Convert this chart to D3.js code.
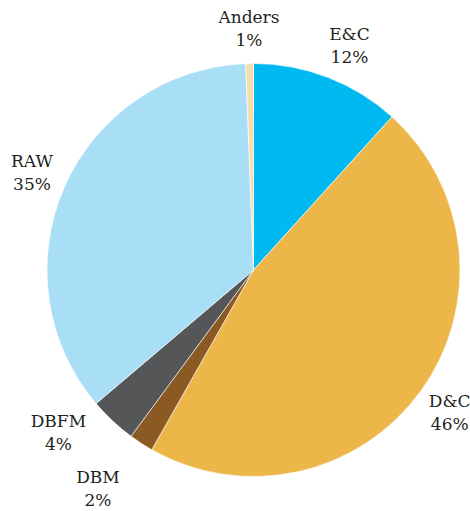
<!DOCTYPE html>
<html>
<head>
<meta charset="utf-8">
<script src="https://cdn.jsdelivr.net/npm/d3@7"></script>
<style>
  html, body { margin: 0; padding: 0; background: #ffffff; }
  svg { display: block; }
  text { font-family: "DejaVu Serif", serif; font-size: 17px; fill: #231f20; }
</style>
</head>
<body>
<svg id="chart" width="470" height="511"></svg>
<script>
// Data
const categories = ["E&C", "D&C", "DBM", "DBFM", "RAW", "Anders"];
const values = [11.7, 46.5, 1.9, 3.7, 35.6, 0.6];
const percentLabels = ["12%", "46%", "2%", "4%", "35%", "1%"];
const colors = ["#00b9f1", "#ecb748", "#8b5a22", "#545658", "#a8def6", "#f6deb1"];

const svg = d3.select("#chart");
const cx = 253.5, cy = 270, radius = 206.5, labelRadius = 242;

const data = categories.map((c, i) => ({ name: c, value: values[i], pct: percentLabels[i], color: colors[i] }));

const pie = d3.pie().value(d => d.value).sort(null);
const arcs = pie(data);

const arc = d3.arc().innerRadius(0).outerRadius(radius);
const labelArc = d3.arc().innerRadius(labelRadius).outerRadius(labelRadius);

const g = svg.append("g").attr("transform", `translate(${cx},${cy})`);

g.selectAll("path")
  .data(arcs)
  .join("path")
  .attr("d", arc)
  .attr("fill", d => d.data.color)
  .attr("stroke", "#ffffff")
  .attr("stroke-width", 0.6)
  .attr("stroke-linejoin", "round");

// label nudges to avoid overlap / match placement
const nudge = { "E&C": [9, 1], "DBM": [-24, 15], "DBFM": [-30, -15] };

const labels = g.selectAll("g.label")
  .data(arcs)
  .join("g")
  .attr("class", "label")
  .attr("transform", d => {
    const [x, y] = labelArc.centroid(d);
    const n = nudge[d.data.name] || [0, 0];
    return `translate(${x + n[0]},${y + n[1]})`;
  });

labels.append("text")
  .attr("text-anchor", "middle")
  .attr("y", -5)
  .text(d => d.data.name);

labels.append("text")
  .attr("text-anchor", "middle")
  .attr("y", 18)
  .text(d => d.data.pct);
</script>
</body>
</html>
